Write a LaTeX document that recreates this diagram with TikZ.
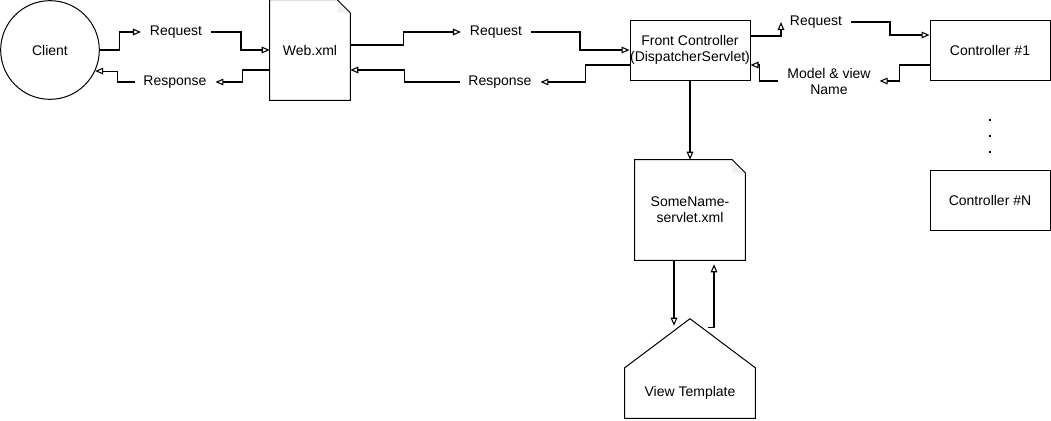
\documentclass[tikz,border=0pt]{standalone}
\usepackage{fontspec}
\setmainfont{Liberation Sans}
\usetikzlibrary{arrows.meta,calc}

% outline of a note shape with a folded corner, for node #1
\newcommand{\drawdoc}[1]{%
  \fill[gray!12] ($(#1.north east)+(-13,0)$) -- ++(0,13) -- ++(13,0) -- cycle;
  \draw[line width=0.75pt] ($(#1.north east)+(-13,0)$) -- (#1.north west) -- (#1.south west)
    -- (#1.south east) -- ($(#1.north east)+(0,13)$) -- cycle;
}

\begin{document}
\begin{tikzpicture}[x=0.75pt,y=-0.75pt,
    font=\fontsize{10.5}{12}\selectfont,
    >={Triangle[open,length=6pt,width=5pt]},
    box/.style={draw,line width=0.75pt,inner xsep=0pt,align=center},
    lbl/.style={inner xsep=6.5pt,align=center},
    conn/.style={->,line width=0.8pt}]
  \useasboundingbox (0,0) rectangle (1051,421);

  \node[circle,draw,line width=0.75pt,minimum size=74pt] (client) at (50,50) {Client};
  \node[minimum width=60pt,minimum height=75pt] (web) at (310,50) {Web.xml};
  \drawdoc{web}
  \node[box,minimum width=90pt,minimum height=45pt] (front) at (690,50) {Front Controller\\(DispatcherServlet)};
  \node[box,minimum width=90pt,minimum height=45pt] (ctl1) at (990,50) {Controller \#1};
  \node[box,minimum width=90pt,minimum height=45pt] (ctlN) at (990,200) {Controller \#N};
  \node[align=center,font=\fontsize{10.5}{12}\selectfont\bfseries] (dots) at (990,136) {.\\.\\.};
  \node[align=center,minimum width=82.5pt,minimum height=75pt] (some) at (690,210) {SomeName-\\servlet.xml};
  \drawdoc{some}
  \node[minimum width=97.5pt,minimum height=37.5pt] (view) at (690,393) {View Template};
  \coordinate (viewtop) at ($(view.north)+(0,-49)$);
  \draw[line width=0.75pt] (view.south west) -- (view.north west) -- (viewtop)
    -- (view.north east) -- (view.south east) -- cycle;

  \node[lbl] (req1)  at (176,32) {Request};
  \node[lbl] (resp1) at (175,82) {Response};
  \node[lbl] (req2)  at (496,32) {Request};
  \node[lbl] (resp2) at (500,82) {Response};
  \node[lbl] (req3)  at (816,22) {Request};
  \node[lbl] (model) at (829,81) {Model \& view\\Name};

  \draw[conn] (client.east) -- ++(20,0) |- (req1.west);
  \draw[conn] (req1.east) -- ++(30,0) |- (web.west);
  \draw[conn] ($(web.west)+(0,20)$) -- ++(-27,0) |- (resp1.east);
  \draw[conn] (resp1.west) -- ++(-17,0) |- (client.-25);
  \draw[conn] ($(web.east)+(0,-5)$) -- ++(53,0) |- (req2.west);
  \draw[conn] (req2.east) -- ++(49,0) |- (front.west);
  \draw[conn] ($(front.west)+(0,15)$) -- ++(-44,0) |- (resp2.east);
  \draw[conn] (resp2.west) -- ++(-55,0) |- ($(web.east)+(0,20)$);
  \draw[conn] ($(front.east)+(0,-14)$) -| (req3.west);
  \draw[conn] (req3.east) -- ++(39,0) |- ($(ctl1.west)+(0,-15)$);
  \draw[conn] ($(ctl1.west)+(0,15)$) -- ++(-30,0) |- (model.east);
  \draw[conn] (model.west) -- ++(-19,0) |- ($(front.east)+(0,15)$);
  \draw[conn] (front.south) -- (some.north);
  \draw[conn] ($(some.south)+(-16,0)$) -- ($(viewtop)+(-16,7)$);
  \draw[conn,shorten >=3pt] ($(viewtop)+(18,9)$) -| ($(some.south)+(24,0)$);
\end{tikzpicture}
\end{document}
